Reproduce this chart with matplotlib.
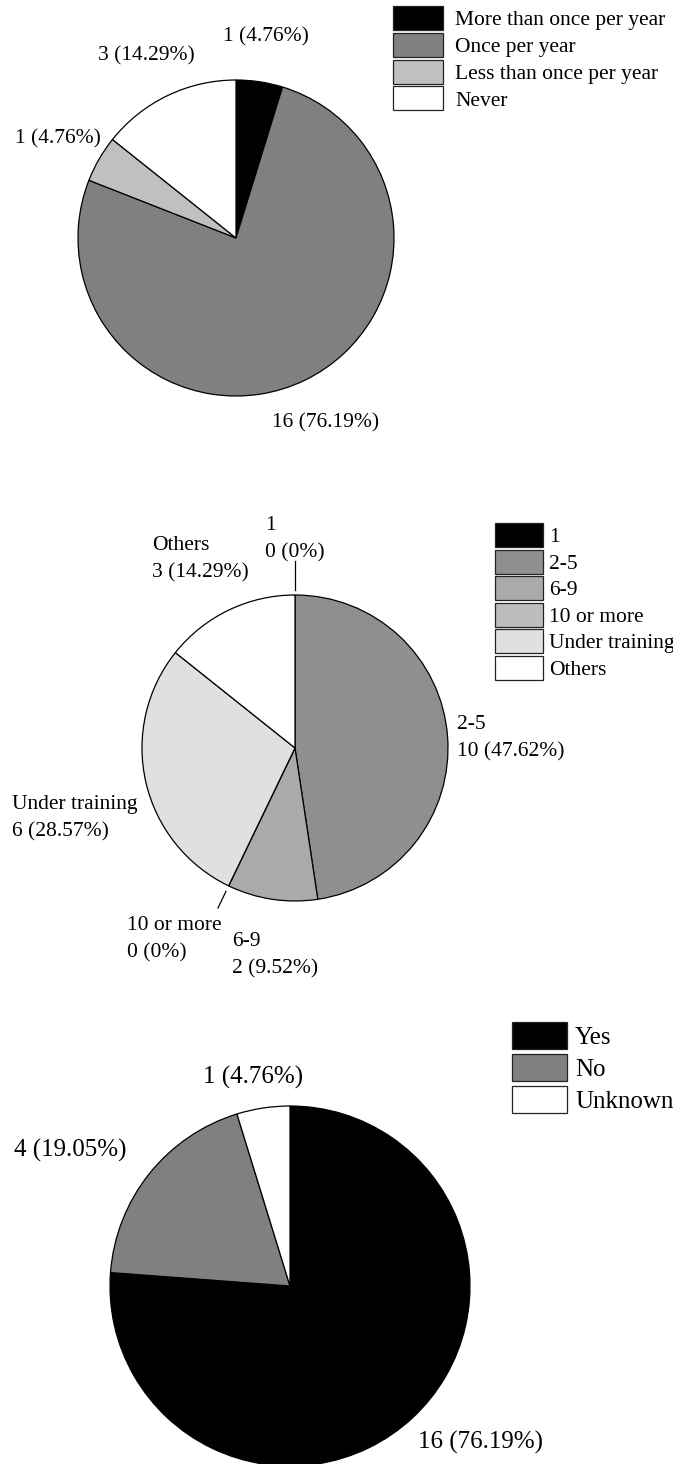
import numpy as np
import matplotlib
matplotlib.use("Agg")
import matplotlib.pyplot as plt

plt.rcParams['font.family'] = ['Liberation Serif', 'DejaVu Serif']

W, H = 673, 1464
DPI = 100

# ---------------- data ----------------
freq_labels = ["More than once per year", "Once per year", "Less than once per year", "Never"]
freq_counts = [1, 16, 1, 3]
freq_pcts = ["4.76", "76.19", "4.76", "14.29"]
freq_colors = ["#000000", "#808080", "#c0c0c0", "#ffffff"]

exp_labels = ["1", "2-5", "6-9", "10 or more", "Under training", "Others"]
exp_counts = [0, 10, 2, 0, 6, 3]
exp_pcts = ["0", "47.62", "9.52", "0", "28.57", "14.29"]
exp_colors = ["#000000", "#8f8f8f", "#aaaaaa", "#bdbdbd", "#e0e0e0", "#ffffff"]

yn_labels = ["Yes", "No", "Unknown"]
yn_counts = [16, 4, 1]
yn_pcts = ["76.19", "19.05", "4.76"]
yn_colors = ["#000000", "#808080", "#ffffff"]

# ---------------- layout (pixels) ----------------
fig = plt.figure(figsize=(W / DPI, H / DPI), dpi=DPI)


def pie_axes(cx, cy, r):
    ax = fig.add_axes([(cx - r) / W, (H - cy - r) / H, 2 * r / W, 2 * r / H])
    ax.set_xlim(-1, 1)
    ax.set_ylim(-1, 1)
    ax.set_aspect('equal')
    ax.axis('off')
    return ax


def draw_pie(ax, counts, colors):
    wedges, _ = ax.pie(counts, colors=colors, startangle=90, counterclock=False,
                       radius=1.0, center=(0, 0), frame=False,
                       wedgeprops=dict(edgecolor='black', linewidth=0.9))
    ax.set_xlim(-1, 1)
    ax.set_ylim(-1, 1)
    return wedges


def mid_angles(counts):
    c = np.asarray(counts, dtype=float)
    cum = np.concatenate([[0], np.cumsum(c)]) / c.sum()
    start = 90 - 360 * cum[:-1]
    end = 90 - 360 * cum[1:]
    return (start + end) / 2, start


def add_legend(labels, colors, x, y, fs, hl, hh, ls, tp):
    handles = [matplotlib.patches.Patch(facecolor=c, edgecolor='#222222', linewidth=0.9)
               for c in colors]
    fig.legend(handles, labels, loc='upper left', bbox_to_anchor=(x / W, 1 - y / H),
               bbox_transform=fig.transFigure, frameon=False, fontsize=fs,
               handlelength=hl, handleheight=hh, labelspacing=ls, handletextpad=tp,
               borderpad=0, borderaxespad=0)


# ---- Pie 1 ----
ax1 = pie_axes(236, 238, 158)
draw_pie(ax1, freq_counts, freq_colors)
pos1 = [(0.19, 1.27), (0.57, -1.17), (-1.13, 0.63), (-0.57, 1.15)]
for (x, y), n, p in zip(pos1, freq_counts, freq_pcts):
    ax1.text(x, y, f"{n} ({p}%)", ha='center', va='center', fontsize=15.5, clip_on=False)
add_legend(freq_labels, freq_colors, 393, 6, 15.5, 2.3, 1.34, 0.12, 0.6)

# ---- Pie 2 ----
ax2 = pie_axes(295, 748, 153)
draw_pie(ax2, exp_counts, exp_colors)
pos2 = [(-0.196, 1.365), (1.059, 0.065), (-0.41, -1.355), (-1.098, -1.25),
        (-1.85, -0.46), (-0.935, 1.235)]
for (x, y), lab, n, p in zip(pos2, exp_labels, exp_counts, exp_pcts):
    ax2.text(x, y, f"{lab}\n{n} ({p}%)", ha='left', va='center', fontsize=15.5,
             linespacing=1.55, clip_on=False)
mids2, starts2 = mid_angles(exp_counts)
leader = {0: (1.03, 1.22), 3: (1.04, 1.16)}
for i, (r0, r1) in leader.items():
    a = np.deg2rad(mids2[i])
    ax2.plot([r0 * np.cos(a), r1 * np.cos(a)], [r0 * np.sin(a), r1 * np.sin(a)],
             color='black', linewidth=0.9, clip_on=False)
add_legend(exp_labels, exp_colors, 495, 523, 15.5, 2.25, 1.34, 0.11, 0.28)

# ---- Pie 3 ----
ax3 = pie_axes(290, 1286, 180)
draw_pie(ax3, yn_counts, yn_colors)
pos3 = [(1.056, -0.867), (-1.22, 0.755), (-0.205, 1.16)]
for (x, y), n, p in zip(pos3, yn_counts, yn_pcts):
    ax3.text(x, y, f"{n} ({p}%)", ha='center', va='center', fontsize=18, clip_on=False)
add_legend(yn_labels, yn_colors, 512, 1022, 18, 2.2, 1.29, 0.2, 0.32)

fig.savefig("out.png", dpi=DPI, facecolor='white')
